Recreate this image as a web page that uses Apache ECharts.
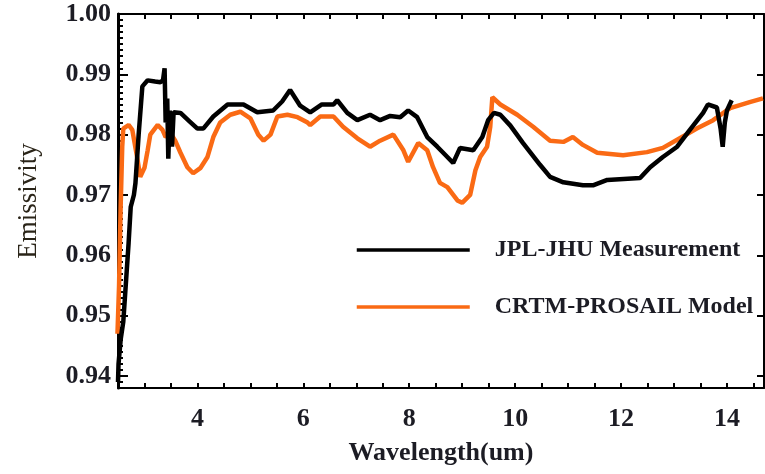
<!DOCTYPE html>
<html>
<head>
<meta charset="utf-8">
<script src="https://cdn.jsdelivr.net/npm/echarts@6/dist/echarts.min.js"></script>
<style>
  html, body { margin: 0; padding: 0; background: #fff; }
  #chart { width: 765px; height: 474px; }
</style>
</head>
<body>
<div id="chart"></div>
<script>
    // wavelength (um) / emissivity
    var measWl = [2.50, 2.51, 2.55, 2.60, 2.70, 2.74, 2.80, 2.83, 2.89, 2.96, 3.06, 3.20, 3.30, 3.35, 3.38, 3.40, 3.43, 3.45, 3.48, 3.52, 3.55, 3.68, 3.85, 4.00, 4.11, 4.30, 4.57, 4.87, 5.13, 5.43, 5.60, 5.75, 5.94, 6.13, 6.35, 6.57, 6.64, 6.83, 7.02, 7.26, 7.45, 7.64, 7.83, 7.98, 8.15, 8.34, 8.53, 8.72, 8.83, 8.96, 9.21, 9.38, 9.49, 9.60, 9.72, 9.91, 10.15, 10.47, 10.66, 10.91, 11.28, 11.47, 11.74, 12.36, 12.55, 12.79, 13.06, 13.30, 13.55, 13.64, 13.81, 13.88, 13.92, 13.96, 14.00, 14.09]
    var measEm = [0.939, 0.942, 0.946, 0.949, 0.962, 0.968, 0.970, 0.972, 0.980, 0.988, 0.989, 0.9888, 0.9887, 0.989, 0.991, 0.982, 0.986, 0.976, 0.984, 0.978, 0.9837, 0.9836, 0.9822, 0.981, 0.981, 0.983, 0.985, 0.985, 0.9837, 0.984, 0.9855, 0.9874, 0.9848, 0.9837, 0.985, 0.985, 0.9857, 0.9836, 0.9824, 0.9833, 0.9824, 0.9831, 0.9829, 0.984, 0.9829, 0.9796, 0.978, 0.9763, 0.9753, 0.9778, 0.9774, 0.9796, 0.9824, 0.9836, 0.9833, 0.9815, 0.9786, 0.975, 0.973, 0.9721, 0.9716, 0.9716, 0.9725, 0.9728, 0.9746, 0.9763, 0.978, 0.9808, 0.9836, 0.985, 0.9845, 0.981, 0.978, 0.982, 0.984, 0.9857]

    var modelWl = [2.49, 2.52, 2.55, 2.58, 2.60, 2.70, 2.77, 2.87, 2.92, 3.00, 3.06, 3.11, 3.25, 3.34, 3.40, 3.49, 3.58, 3.68, 3.81, 3.92, 4.06, 4.19, 4.30, 4.43, 4.62, 4.81, 5.00, 5.15, 5.25, 5.38, 5.51, 5.70, 5.89, 6.08, 6.13, 6.32, 6.57, 6.75, 7.02, 7.26, 7.45, 7.70, 7.89, 7.98, 8.17, 8.34, 8.45, 8.58, 8.72, 8.91, 9.00, 9.15, 9.25, 9.34, 9.47, 9.53, 9.57, 9.72, 10.04, 10.34, 10.66, 10.91, 11.09, 11.28, 11.55, 12.04, 12.49, 12.79, 13.11, 13.43, 13.74, 14.06, 14.43, 14.68]
    var modelEm = [0.947, 0.955, 0.968, 0.978, 0.981, 0.9816, 0.9808, 0.9758, 0.973, 0.9745, 0.9774, 0.980, 0.9816, 0.9808, 0.9796, 0.9803, 0.979, 0.977, 0.9746, 0.9736, 0.9745, 0.9763, 0.9796, 0.982, 0.9833, 0.9838, 0.9827, 0.980, 0.979, 0.980, 0.983, 0.9833, 0.9829, 0.982, 0.9816, 0.983, 0.983, 0.9813, 0.9794, 0.978, 0.979, 0.980, 0.9774, 0.9755, 0.9786, 0.9774, 0.9746, 0.972, 0.9713, 0.9691, 0.9687, 0.970, 0.9741, 0.9763, 0.978, 0.9813, 0.9862, 0.985, 0.9833, 0.9813, 0.979, 0.9788, 0.9796, 0.9783, 0.977, 0.9766, 0.9771, 0.9778, 0.9794, 0.981, 0.9824, 0.9844, 0.9854, 0.986]

    var xLabels = [4, 6, 8, 10, 12, 14]
    var xTicks = [3, 3.5, 4, 4.5, 5, 5.5, 6, 6.5, 7, 7.5, 8, 8.5, 9, 9.5, 10, 10.5, 11, 11.5, 12, 12.5, 13, 13.5, 14, 14.5]
    var yLabels = [0.94, 0.95, 0.96, 0.97, 0.98, 0.99, 1.00]

    var serif = 'Liberation Serif'
    var txt = '#1c1c24'

    // minor ticks every 0.001 on the left axis
    var yMinor = []
    for (var i = 939; i <= 1000; i++) yMinor.push(i / 1000)

    function pairs(xs, ys) {
        return xs.map(function (x, k) { return [x, ys[k]] })
    }

    function legendFor(name, top) {
        return {
            data: [name],
            left: 350, top: top,
            itemWidth: 113, itemHeight: 20,
            itemStyle: { opacity: 0 },
            lineStyle: { width: 3.5 },
            textStyle: { fontFamily: serif, fontWeight: 'bold', fontSize: 24, color: txt, padding: [0, 0, 0, 20] }
        }
    }

    var chart = echarts.init(document.getElementById('chart'))
    chart.setOption({
        animation: false,
        grid: { left: 118, right: 1, top: 14, bottom: 86 },
        legend: [
            legendFor('JPL-JHU Measurement', 233),
            legendFor('CRTM-PROSAIL Model', 290)
        ],
        xAxis: [
            {
                type: 'value', min: 2.5, max: 14.7, position: 'bottom',
                name: 'Wavelength(um)', nameLocation: 'middle', nameGap: 52,
                nameTextStyle: { fontFamily: serif, fontWeight: 'bold', fontSize: 26, color: txt },
                axisLine: { lineStyle: { color: '#000', width: 2 } },
                axisTick: { inside: true, length: 5, customValues: xTicks, lineStyle: { color: '#000', width: 2 } },
                axisLabel: { customValues: xLabels, margin: 18, fontFamily: serif, fontWeight: 'bold', fontSize: 26, color: txt },
                splitLine: { show: false }
            },
            {
                type: 'value', min: 2.5, max: 14.7, position: 'top',
                axisLine: { lineStyle: { color: '#000', width: 2 } },
                axisTick: { inside: true, length: 5, customValues: xTicks, lineStyle: { color: '#000', width: 2 } },
                axisLabel: { show: false },
                splitLine: { show: false }
            }
        ],
        yAxis: [
            {
                type: 'value', min: 0.938, max: 1.0, position: 'left',
                name: 'Emissivity', nameLocation: 'middle', nameGap: 76, nameRotate: 90,
                nameTextStyle: { fontFamily: serif, fontSize: 27, color: '#2a2418' },
                axisLine: { lineStyle: { color: '#000', width: 3 } },
                axisTick: { inside: true, length: 5, customValues: yMinor, lineStyle: { color: '#000', width: 2 } },
                axisLabel: {
                    customValues: yLabels, margin: 7,
                    fontFamily: serif, fontWeight: 'bold', fontSize: 26, color: txt,
                    formatter: function (v) { return v.toFixed(2) }
                },
                splitLine: { show: false }
            },
            {
                type: 'value', min: 0.938, max: 1.0, position: 'left',
                axisLine: { show: false },
                axisTick: { inside: true, length: 10, customValues: yLabels, lineStyle: { color: '#000', width: 2 } },
                axisLabel: { show: false },
                splitLine: { show: false }
            },
            {
                type: 'value', min: 0.938, max: 1.0, position: 'right',
                axisLine: { lineStyle: { color: '#000', width: 2 } },
                axisTick: { inside: true, length: 7, customValues: yLabels, lineStyle: { color: '#000', width: 2 } },
                axisLabel: { show: false },
                splitLine: { show: false }
            }
        ],
        series: [
            {
                name: 'JPL-JHU Measurement', type: 'line', symbol: 'none',
                data: pairs(measWl, measEm),
                lineStyle: { color: '#000', width: 4.5 }, itemStyle: { color: '#000' },
                z: 3
            },
            {
                name: 'CRTM-PROSAIL Model', type: 'line', symbol: 'none',
                data: pairs(modelWl, modelEm),
                lineStyle: { color: '#fa6a14', width: 4.5 }, itemStyle: { color: '#fa6a14' },
                z: 2
            }
        ]
    })
</script>
</body>
</html>
